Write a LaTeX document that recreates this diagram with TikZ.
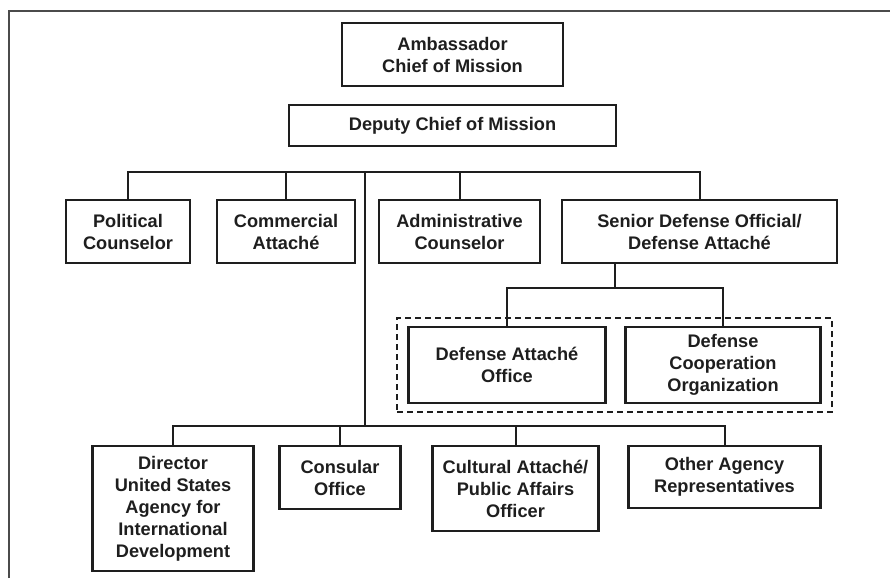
\documentclass[tikz,border=0pt]{standalone}
\usepackage{fontspec}
\setsansfont{Liberation Sans}
\usepackage{xcolor}
\usepackage{tikz}
\usetikzlibrary{positioning, fit, calc}
\definecolor{orgink}{HTML}{1E1E1E}
\definecolor{orgpaper}{HTML}{FFFFFF}

\begin{document}
\begin{tikzpicture}[
    x=1pt, y=-1pt,
    unit/.style={
        rectangle,
        draw=orgink,
        fill=orgpaper,
        line width=2.4pt,
        minimum height=63pt,
        inner sep=2pt,
        outer sep=0pt,
        align=center,
        text=orgink,
        font=\sffamily\bfseries\fontsize{18.2}{22}\selectfont
    },
    link/.style={
        line width=2pt,
        draw=orgink
    },
    group/.style={
        rectangle,
        draw=orgink,
        line width=2.2pt,
        dash pattern=on 6pt off 4pt,
        inner ysep=9pt,
        inner xsep=11.5pt
    },
    frameline/.style={
        line width=2.2pt,
        draw=orgink!80
    }
]
\useasboundingbox (0,0) rectangle (890,578);
\draw[frameline] (9,578) -- (9,11) -- (890,11);

% top of the mission
\node[unit, minimum width=221pt] (amb) at (452.5,54.5) {Ambassador\\Chief of Mission};
\node[unit, minimum width=327pt, minimum height=41pt, below=19pt of amb] (dep) {Deputy Chief of Mission};

% first row
\node[unit, minimum width=124pt] (pol) at (128,231.5) {Political\\Counselor};
\node[unit, minimum width=138pt, right=27pt of pol] (com) {Commercial\\Attach\'e};
\node[unit, minimum width=161pt, right=24pt of com] (adm) {Administrative\\Counselor};
\node[unit, minimum width=275pt, right=22pt of adm] (sdo) {Senior Defense Official/\\Defense Attach\'e};

% defense offices
\node[unit, minimum width=197pt, minimum height=76pt] (dao) at (507,365) {Defense Attach\'e\\Office};
\node[unit, minimum width=195pt, minimum height=76pt, right=20pt of dao] (dco) {Defense\\Cooperation\\Organization};
\node[group, fit=(dao)(dco)] (defgrp) {};

% second row
\node[unit, minimum width=161pt, minimum height=125pt, anchor=north west] (dir) at (92.5,446) {Director\\United States\\Agency for\\International\\Development};
\node[unit, minimum width=121pt, right=26pt of dir.north east, anchor=north west] (con) {Consular\\Office};
\node[unit, minimum width=166pt, minimum height=85pt, right=32pt of con.north east, anchor=north west] (cul) {Cultural Attach\'e/\\Public Affairs\\Officer};
\node[unit, minimum width=192pt, minimum height=62pt, right=30pt of cul.north east, anchor=north west] (oth) {Other Agency\\Representatives};

\coordinate (bus) at (365,172);
\coordinate (lowbus) at (365,426);
\coordinate (split) at (615,288);

\draw[link] (pol.north) |- (bus) -| (sdo.north);
\draw[link] (com.north) -- (com.north |- bus);
\draw[link] (adm.north) -- (adm.north |- bus);
\draw[link] (bus) -- (lowbus);
\draw[link] (dir.north) |- (lowbus) -| (oth.north);
\draw[link] (con.north) -- (con.north |- lowbus);
\draw[link] (cul.north) -- (cul.north |- lowbus);
\draw[link] (sdo.south -| split) -- (split);
\draw[link] (dao.north) |- (split) -| (dco.north);

\end{tikzpicture}
\end{document}
